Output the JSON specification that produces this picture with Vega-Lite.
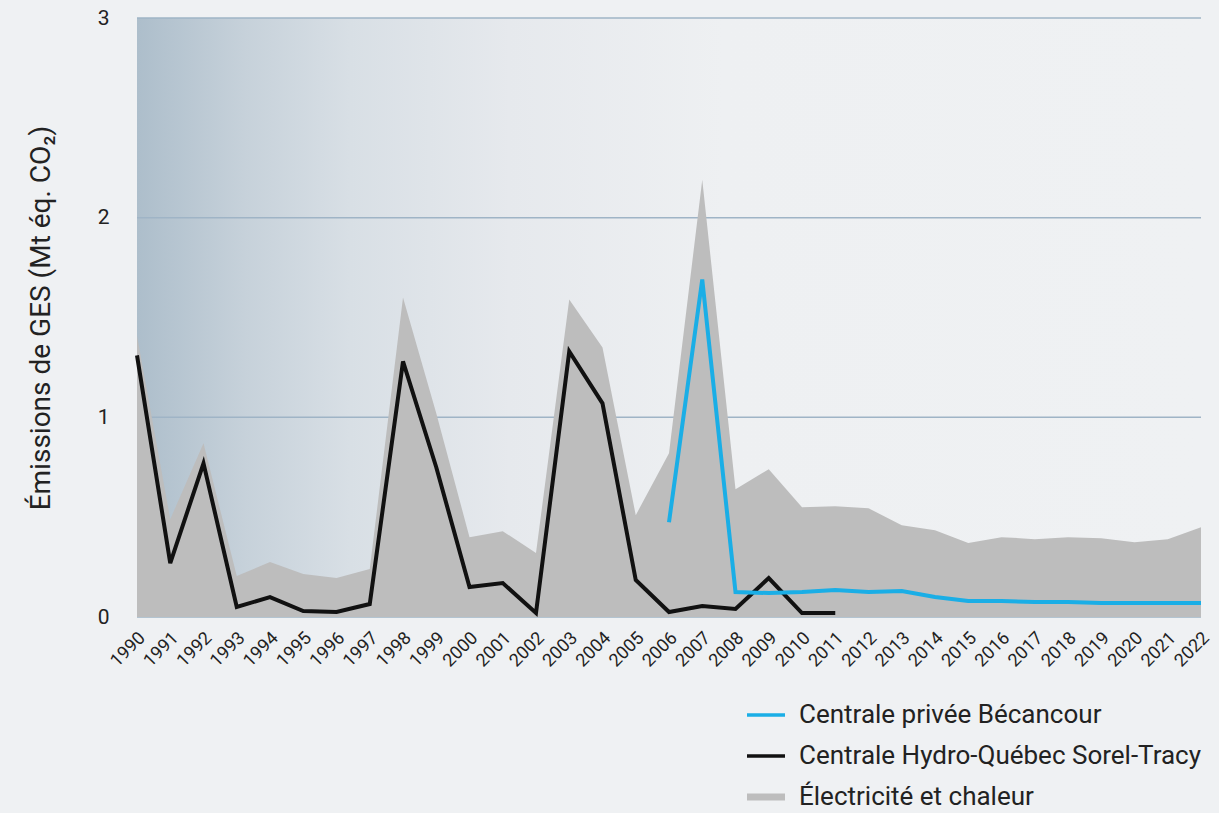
{
  "$schema": "https://vega.github.io/schema/vega-lite/v6.json",
  "width": 1064,
  "height": 599,
  "autosize": {"type": "none"},
  "padding": {"left": 137, "top": 18, "right": 18, "bottom": 196},
  "background": "#eff1f3",
  "config": {"view": {"stroke": null}, "font": "Roboto"},
  "datasets": {
    "series": [
      {"year": 1990, "serie": "Électricité et chaleur", "value": 1.41},
      {"year": 1991, "serie": "Électricité et chaleur", "value": 0.49},
      {"year": 1992, "serie": "Électricité et chaleur", "value": 0.87},
      {"year": 1993, "serie": "Électricité et chaleur", "value": 0.205},
      {"year": 1994, "serie": "Électricité et chaleur", "value": 0.275},
      {"year": 1995, "serie": "Électricité et chaleur", "value": 0.215},
      {"year": 1996, "serie": "Électricité et chaleur", "value": 0.195},
      {"year": 1997, "serie": "Électricité et chaleur", "value": 0.24},
      {"year": 1998, "serie": "Électricité et chaleur", "value": 1.6},
      {"year": 1999, "serie": "Électricité et chaleur", "value": 1.02},
      {"year": 2000, "serie": "Électricité et chaleur", "value": 0.4},
      {"year": 2001, "serie": "Électricité et chaleur", "value": 0.43},
      {"year": 2002, "serie": "Électricité et chaleur", "value": 0.32},
      {"year": 2003, "serie": "Électricité et chaleur", "value": 1.59},
      {"year": 2004, "serie": "Électricité et chaleur", "value": 1.35},
      {"year": 2005, "serie": "Électricité et chaleur", "value": 0.51},
      {"year": 2006, "serie": "Électricité et chaleur", "value": 0.82},
      {"year": 2007, "serie": "Électricité et chaleur", "value": 2.19},
      {"year": 2008, "serie": "Électricité et chaleur", "value": 0.64},
      {"year": 2009, "serie": "Électricité et chaleur", "value": 0.74},
      {"year": 2010, "serie": "Électricité et chaleur", "value": 0.55},
      {"year": 2011, "serie": "Électricité et chaleur", "value": 0.555},
      {"year": 2012, "serie": "Électricité et chaleur", "value": 0.545},
      {"year": 2013, "serie": "Électricité et chaleur", "value": 0.46},
      {"year": 2014, "serie": "Électricité et chaleur", "value": 0.435},
      {"year": 2015, "serie": "Électricité et chaleur", "value": 0.37},
      {"year": 2016, "serie": "Électricité et chaleur", "value": 0.4},
      {"year": 2017, "serie": "Électricité et chaleur", "value": 0.39},
      {"year": 2018, "serie": "Électricité et chaleur", "value": 0.4},
      {"year": 2019, "serie": "Électricité et chaleur", "value": 0.395},
      {"year": 2020, "serie": "Électricité et chaleur", "value": 0.375},
      {"year": 2021, "serie": "Électricité et chaleur", "value": 0.39},
      {"year": 2022, "serie": "Électricité et chaleur", "value": 0.45},
      {"year": 1990, "serie": "Centrale Hydro-Québec Sorel-Tracy", "value": 1.31},
      {"year": 1991, "serie": "Centrale Hydro-Québec Sorel-Tracy", "value": 0.27},
      {"year": 1992, "serie": "Centrale Hydro-Québec Sorel-Tracy", "value": 0.77},
      {"year": 1993, "serie": "Centrale Hydro-Québec Sorel-Tracy", "value": 0.05},
      {"year": 1994, "serie": "Centrale Hydro-Québec Sorel-Tracy", "value": 0.1},
      {"year": 1995, "serie": "Centrale Hydro-Québec Sorel-Tracy", "value": 0.03},
      {"year": 1996, "serie": "Centrale Hydro-Québec Sorel-Tracy", "value": 0.025},
      {"year": 1997, "serie": "Centrale Hydro-Québec Sorel-Tracy", "value": 0.065},
      {"year": 1998, "serie": "Centrale Hydro-Québec Sorel-Tracy", "value": 1.28},
      {"year": 1999, "serie": "Centrale Hydro-Québec Sorel-Tracy", "value": 0.75},
      {"year": 2000, "serie": "Centrale Hydro-Québec Sorel-Tracy", "value": 0.15},
      {"year": 2001, "serie": "Centrale Hydro-Québec Sorel-Tracy", "value": 0.17},
      {"year": 2002, "serie": "Centrale Hydro-Québec Sorel-Tracy", "value": 0.02},
      {"year": 2003, "serie": "Centrale Hydro-Québec Sorel-Tracy", "value": 1.33},
      {"year": 2004, "serie": "Centrale Hydro-Québec Sorel-Tracy", "value": 1.07},
      {"year": 2005, "serie": "Centrale Hydro-Québec Sorel-Tracy", "value": 0.185},
      {"year": 2006, "serie": "Centrale Hydro-Québec Sorel-Tracy", "value": 0.025},
      {"year": 2007, "serie": "Centrale Hydro-Québec Sorel-Tracy", "value": 0.055},
      {"year": 2008, "serie": "Centrale Hydro-Québec Sorel-Tracy", "value": 0.04},
      {"year": 2009, "serie": "Centrale Hydro-Québec Sorel-Tracy", "value": 0.195},
      {"year": 2010, "serie": "Centrale Hydro-Québec Sorel-Tracy", "value": 0.02},
      {"year": 2011, "serie": "Centrale Hydro-Québec Sorel-Tracy", "value": 0.02},
      {"year": 2006, "serie": "Centrale privée Bécancour", "value": 0.475},
      {"year": 2007, "serie": "Centrale privée Bécancour", "value": 1.69},
      {"year": 2008, "serie": "Centrale privée Bécancour", "value": 0.125},
      {"year": 2009, "serie": "Centrale privée Bécancour", "value": 0.12},
      {"year": 2010, "serie": "Centrale privée Bécancour", "value": 0.125},
      {"year": 2011, "serie": "Centrale privée Bécancour", "value": 0.135},
      {"year": 2012, "serie": "Centrale privée Bécancour", "value": 0.125},
      {"year": 2013, "serie": "Centrale privée Bécancour", "value": 0.13},
      {"year": 2014, "serie": "Centrale privée Bécancour", "value": 0.1},
      {"year": 2015, "serie": "Centrale privée Bécancour", "value": 0.08},
      {"year": 2016, "serie": "Centrale privée Bécancour", "value": 0.08},
      {"year": 2017, "serie": "Centrale privée Bécancour", "value": 0.075},
      {"year": 2018, "serie": "Centrale privée Bécancour", "value": 0.075},
      {"year": 2019, "serie": "Centrale privée Bécancour", "value": 0.07},
      {"year": 2020, "serie": "Centrale privée Bécancour", "value": 0.07},
      {"year": 2021, "serie": "Centrale privée Bécancour", "value": 0.07},
      {"year": 2022, "serie": "Centrale privée Bécancour", "value": 0.07}
    ],
    "grid": [{"g": 0}, {"g": 1}, {"g": 2}, {"g": 3}]
  },
  "layer": [
    {
      "data": {"values": [{"k": 1}]},
      "mark": {
        "type": "rect",
        "fill": {
          "gradient": "linear",
          "x1": 0, "x2": 1, "y1": 0, "y2": 0,
          "stops": [
            {"offset": 0, "color": "#adbecb"},
            {"offset": 0.1, "color": "#c6d1da"},
            {"offset": 0.2, "color": "#d8dfe5"},
            {"offset": 0.35, "color": "#e6e9ed"},
            {"offset": 0.55, "color": "#eef0f2"},
            {"offset": 1, "color": "#eff1f3"}
          ]
        }
      },
      "encoding": {
        "x": {"datum": 1990, "type": "quantitative"},
        "x2": {"datum": 2022},
        "y": {"datum": 0, "type": "quantitative"},
        "y2": {"datum": 3}
      }
    },
    {
      "data": {"name": "grid"},
      "mark": {"type": "rule", "color": "#9fb4c6", "strokeWidth": 1.5},
      "encoding": {
        "y": {"field": "g", "type": "quantitative"}
      }
    },
    {
      "data": {"name": "series"},
      "transform": [{"filter": "datum.serie === 'Électricité et chaleur'"}],
      "mark": {"type": "area", "opacity": 1},
      "encoding": {
        "x": {"field": "year", "type": "quantitative"},
        "y": {"field": "value", "type": "quantitative"},
        "color": {"field": "serie", "type": "nominal"}
      }
    },
    {
      "data": {"name": "series"},
      "transform": [{"filter": "datum.serie !== 'Électricité et chaleur'"}],
      "mark": {"type": "line", "strokeWidth": 4, "strokeJoin": "miter", "strokeCap": "butt"},
      "encoding": {
        "x": {"field": "year", "type": "quantitative"},
        "y": {"field": "value", "type": "quantitative"},
        "color": {"field": "serie", "type": "nominal"}
      }
    }
  ],
  "encoding": {
    "x": {
      "type": "quantitative",
      "scale": {"domain": [1990, 2022], "nice": false, "zero": false},
      "axis": {
        "title": null,
        "values": [1990,1991,1992,1993,1994,1995,1996,1997,1998,1999,2000,2001,2002,2003,2004,2005,2006,2007,2008,2009,2010,2011,2012,2013,2014,2015,2016,2017,2018,2019,2020,2021,2022],
        "format": "d",
        "grid": false,
        "domain": false,
        "ticks": false,
        "labelAngle": -45,
        "labelAlign": "right",
        "labelBaseline": "middle",
        "labelPadding": 18,
        "labelOffset": 5,
        "labelFont": "Roboto",
        "labelFontSize": 18,
        "labelColor": "#222222",
        "labelOverlap": false,
        "labelBound": false,
        "labelFlush": false
      }
    },
    "y": {
      "type": "quantitative",
      "scale": {"domain": [0, 3], "nice": false},
      "axis": {
        "title": "Émissions de GES (Mt éq. CO₂)",
        "values": [0, 1, 2, 3],
        "grid": false,
        "domain": false,
        "ticks": false,
        "labelPadding": 28,
        "labelFontSize": 21,
        "labelColor": "#222222",
        "labelFont": "Roboto",
        "titleFont": "Roboto",
        "titleFontSize": 28,
        "titleFontWeight": "normal",
        "titleColor": "#222222",
        "titlePadding": 42
      }
    },
    "color": {
      "type": "nominal",
      "scale": {
        "domain": ["Centrale privée Bécancour", "Centrale Hydro-Québec Sorel-Tracy", "Électricité et chaleur"],
        "range": ["#1aaee6", "#111111", "#bdbdbd"]
      },
      "legend": {
        "title": null,
        "orient": "none",
        "legendX": 610,
        "legendY": 678,
        "padding": 0,
        "direction": "vertical",
        "symbolSize": 1444,
        "symbolType": "M-1,-0.09H1V0.09H-1Z",
        "labelFontSize": 26,
        "labelFont": "Roboto",
        "labelColor": "#222222",
        "labelOffset": 14,
        "labelLimit": 600,
        "rowPadding": 9,
        "symbolStrokeWidth": 0,
        "encode": {
          "symbols": {
            "update": {
              "shape": {"signal": "datum.value === 'Électricité et chaleur' ? 'M-1,-0.18H1V0.18H-1Z' : 'M-1,-0.09H1V0.09H-1Z'"},
              "fill": {"signal": "datum.value === 'Électricité et chaleur' ? '#a9a9a9' : (datum.value === 'Centrale privée Bécancour' ? '#1aaee6' : '#111111')"},
              "strokeWidth": {"value": 0},
              "opacity": {"value": 1}
            }
          }
        }
      }
    }
  }
}
